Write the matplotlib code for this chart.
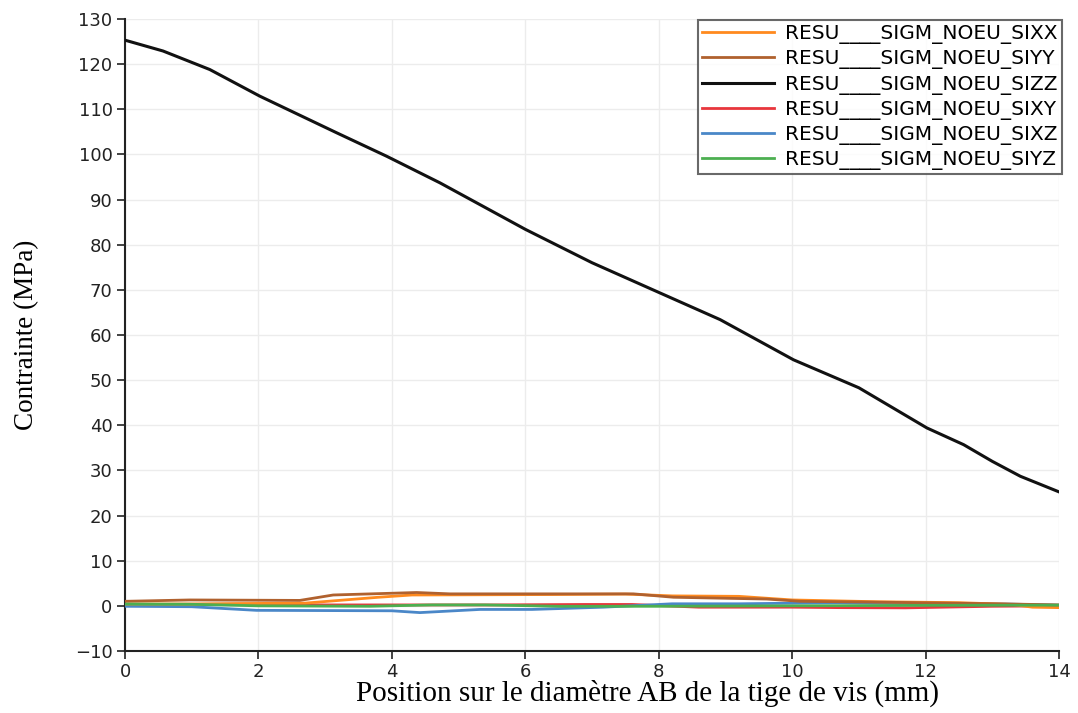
import matplotlib
matplotlib.use("Agg")
import matplotlib.pyplot as plt

# ---- data ----
x_sizz = [0.0, 0.57, 1.27, 2.02, 3.17, 3.92, 4.72, 6.0, 7.0, 8.02, 8.92, 10.02, 11.0, 12.02, 12.57, 13.0, 13.42, 13.99]
y_sizz = [125.3, 122.9, 118.8, 112.9, 104.8, 99.6, 93.7, 83.4, 76.0, 69.3, 63.4, 54.5, 48.3, 39.4, 35.7, 32.0, 28.7, 25.3]

x_siyy = [0.0, 0.97, 2.62, 3.12, 4.37, 4.87, 7.12, 7.62, 8.22, 9.62, 10.12, 11.62, 13.27, 14.0]
y_siyy = [1.0, 1.3, 1.2, 2.4, 2.95, 2.65, 2.65, 2.65, 1.9, 1.5, 1.0, 0.75, 0.4, 0.2]

x_sixx = [0.0, 1.0, 1.7, 2.7, 3.8, 4.3, 6.4, 7.5, 8.2, 9.2, 10.0, 11.3, 12.5, 13.3, 13.6, 14.0]
y_sixx = [0.4, 0.4, 0.5, 0.6, 1.9, 2.4, 2.5, 2.6, 2.2, 2.1, 1.3, 0.9, 0.7, 0.3, -0.3, -0.4]

x_sixy = [0.0, 1.3, 1.7, 3.0, 4.6, 5.5, 6.9, 7.6, 8.6, 8.9, 10.0, 10.7, 11.7, 13.0, 14.0]
y_sixy = [0.3, 0.35, 0.37, 0.2, 0.2, 0.2, 0.3, 0.3, -0.3, -0.3, -0.3, -0.4, -0.45, -0.1, 0.0]

x_sixz = [0.0, 1.0, 1.97, 4.0, 4.42, 5.32, 6.1, 7.17, 8.2, 9.2, 10.7, 12.0, 13.2, 14.0]
y_sixz = [-0.1, -0.2, -1.0, -1.1, -1.5, -0.8, -0.8, -0.3, 0.45, 0.45, 0.7, 0.45, 0.4, 0.15]

x_siyz = [0.0, 0.97, 2.0, 3.67, 4.6, 5.4, 6.5, 8.0, 10.0, 12.0, 14.0]
y_siyz = [0.4, 0.35, 0.0, -0.1, 0.2, 0.2, -0.1, -0.1, 0.0, 0.1, 0.15]

series_names = ["RESU____SIGM_NOEU_SIXX", "RESU____SIGM_NOEU_SIYY", "RESU____SIGM_NOEU_SIZZ",
                "RESU____SIGM_NOEU_SIXY", "RESU____SIGM_NOEU_SIXZ", "RESU____SIGM_NOEU_SIYZ"]
x_ticks = [0, 2, 4, 6, 8, 10, 12, 14]
y_ticks = [-10, 0, 10, 20, 30, 40, 50, 60, 70, 80, 90, 100, 110, 120, 130]

colors = ["#FF8A1E", "#B0612E", "#111111", "#E8363C", "#4A87C8", "#4CAF50"]
widths = [2.0, 2.0, 2.2, 2.0, 2.0, 2.0]

fig = plt.figure(figsize=(10.78, 7.13), dpi=100)
ax = fig.add_axes([0.116, 0.087, 0.8664, 0.8864])

series = [(x_sixx, y_sixx), (x_siyy, y_siyy), (x_sizz, y_sizz),
          (x_sixy, y_sixy), (x_sixz, y_sixz), (x_siyz, y_siyz)]
order = [3, 4, 0, 1, 5, 2]
handles = [None] * 6
for i in order:
    xs, ys = series[i]
    (h,) = ax.plot(xs, ys, color=colors[i], lw=widths[i], label=series_names[i],
                   solid_joinstyle="round", zorder=3)
    handles[i] = h

ax.set_xlim(0, 14)
ax.set_ylim(-10, 130)
ax.set_xticks(x_ticks)
ax.set_yticks(y_ticks)
ax.grid(True, color="#ececec", lw=1.0, zorder=0)
for s in ["top", "right"]:
    ax.spines[s].set_visible(False)
for s in ["left", "bottom"]:
    ax.spines[s].set_color("#222222")
    ax.spines[s].set_linewidth(1.5)
ax.tick_params(axis="both", direction="out", length=6, width=1.2, color="#222222",
               labelsize=13, labelcolor="#222222", pad=3)
for lab in ax.get_xticklabels() + ax.get_yticklabels():
    lab.set_family("DejaVu Sans")

ax.set_xlabel("Position sur le diamètre AB de la tige de vis (mm)", family="Liberation Serif",
              fontsize=21)
ax.xaxis.set_label_coords(0.559, -0.045, transform=ax.transAxes)
ax.xaxis.label.set_va("top")
ax.set_ylabel("Contrainte (MPa)", family="Liberation Serif", fontsize=19.5, labelpad=26)

leg = ax.legend(handles=handles, loc="upper right", bbox_to_anchor=(1.003, 0.998),
                prop={"family": "DejaVu Sans", "size": 14.5}, frameon=True, fancybox=False,
                handlelength=3.6, handletextpad=0.55, labelspacing=0.26, borderpad=0.2,
                borderaxespad=0.0)
leg.get_frame().set_edgecolor("#444444")
leg.get_frame().set_linewidth(1.5)

fig.savefig("out.png", dpi=100)
